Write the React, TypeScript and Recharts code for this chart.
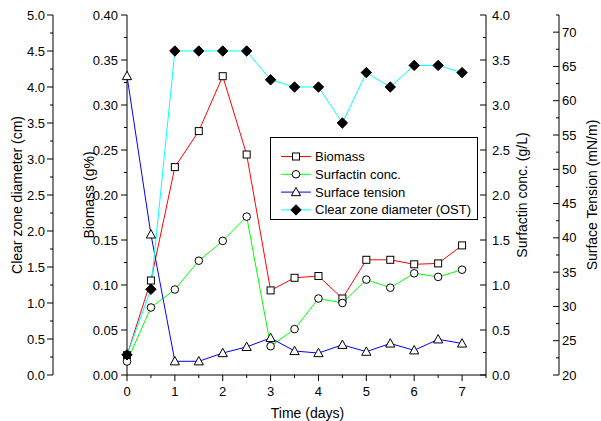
import React from "react";
import { ComposedChart, Line, XAxis, YAxis, Legend } from "recharts";

// time points (days)
const days = [0, 0.5, 1, 1.5, 2, 2.5, 3, 3.5, 4, 4.5, 5, 5.5, 6, 6.5, 7];
// Biomass (g%)
const biomass = [0.022, 0.105, 0.231, 0.271, 0.332, 0.245, 0.094, 0.108, 0.11, 0.085, 0.128, 0.128, 0.123, 0.124, 0.144];
// Surfactin conc. (g/L)
const surfactin = [0.15, 0.75, 0.95, 1.27, 1.49, 1.76, 0.32, 0.51, 0.85, 0.8, 1.06, 0.97, 1.13, 1.09, 1.17];
// Surface tension (mN/m)
const tension = [63.6, 40.5, 22.0, 22.0, 23.2, 24.1, 25.4, 23.5, 23.2, 24.4, 23.4, 24.6, 23.6, 25.2, 24.6];
// Clear zone diameter (cm)
const zone = [0.28, 1.19, 4.5, 4.5, 4.5, 4.5, 4.1, 4.0, 4.0, 3.5, 4.2, 4.0, 4.3, 4.3, 4.2];

const dayLabels = ["0", "1", "2", "3", "4", "5", "6", "7"];
const zoneLabels = ["0.0", "0.5", "1.0", "1.5", "2.0", "2.5", "3.0", "3.5", "4.0", "4.5", "5.0"];
const biomassLabels = ["0.00", "0.05", "0.10", "0.15", "0.20", "0.25", "0.30", "0.35", "0.40"];
const surfactinLabels = ["0.0", "0.5", "1.0", "1.5", "2.0", "2.5", "3.0", "3.5", "4.0"];
const tensionLabels = ["20", "25", "30", "35", "40", "45", "50", "55", "60", "65", "70"];

const seriesNames = ["Biomass", "Surfactin conc.", "Surface tension", "Clear zone diameter (OST)"];

const FONT = "'Liberation Sans', Arial, Helvetica, sans-serif";

const data = days.map((t, i) => ({
  t,
  biomass: biomass[i],
  surfactin: surfactin[i],
  tension: tension[i],
  zone: zone[i],
}));

// major ticks plus a minor tick half way between them
function withMinors(labels: string[], extra?: number) {
  const v = labels.map(Number);
  const out: number[] = [];
  v.forEach((x, i) => {
    out.push(x);
    if (i < v.length - 1) out.push((x + v[i + 1]) / 2);
  });
  if (extra !== undefined) out.push(extra);
  return out;
}

function makeTick(labels: string[], side: "left" | "right" | "bottom", dir: number, gap: number) {
  const majors = labels.map(Number);
  return (p: any) => {
    const { x, y, payload } = p;
    const idx = majors.findIndex((m) => Math.abs(m - payload.value) < 1e-6);
    const len = idx >= 0 ? 6 : 3;
    if (side === "bottom") {
      return (
        <g>
          <line x1={x} y1={y} x2={x} y2={y + len} stroke="#000" />
          {idx >= 0 && (
            <text x={x} y={y + gap} textAnchor="middle" dominantBaseline="central" fontSize={13} fontFamily={FONT} fill="#000">
              {labels[idx]}
            </text>
          )}
        </g>
      );
    }
    return (
      <g>
        <line x1={x} y1={y} x2={x + dir * len} y2={y} stroke="#000" />
        {idx >= 0 && (
          <text
            x={side === "left" ? x - gap : x + gap}
            y={y}
            textAnchor={side === "left" ? "end" : "start"}
            dominantBaseline="central"
            fontSize={13}
            fontFamily={FONT}
            fill="#000"
          >
            {labels[idx]}
          </text>
        )}
      </g>
    );
  };
}

function axisTitle(text: string, side: "left" | "right", dx: number) {
  return (p: any) => {
    const vb = p.viewBox;
    const lineX = side === "left" ? vb.x + vb.width : vb.x;
    const cx = lineX + dx;
    const cy = vb.y + vb.height / 2;
    return (
      <text x={cx} y={cy} transform={`rotate(-90 ${cx} ${cy})`} textAnchor="middle" dominantBaseline="central" fontSize={14} fontFamily={FONT} fill="#000">
        {text}
      </text>
    );
  };
}

function marker(shape: string, cx: number, cy: number, key?: any) {
  if (shape === "square")
    return <rect key={key} x={cx - 3.5} y={cy - 3.5} width={7} height={7} fill="#fff" stroke="#000" strokeWidth={1} />;
  if (shape === "circle") return <circle key={key} cx={cx} cy={cy} r={3.8} fill="#fff" stroke="#000" strokeWidth={1} />;
  if (shape === "triangle")
    return (
      <polygon key={key} points={`${cx},${cy - 4.8} ${cx - 4.6},${cy + 3.6} ${cx + 4.6},${cy + 3.6}`} fill="#fff" stroke="#000" strokeWidth={1} />
    );
  return <polygon key={key} points={`${cx},${cy - 5.2} ${cx + 5.2},${cy} ${cx},${cy + 5.2} ${cx - 5.2},${cy}`} fill="#000" stroke="#000" />;
}

const dotFor = (shape: string) => (p: any) => marker(shape, p.cx, p.cy, p.index);

const styles = [
  { color: "#ff0000", shape: "square" },
  { color: "#00ff00", shape: "circle" },
  { color: "#0000ff", shape: "triangle" },
  { color: "#00ffff", shape: "diamond" },
];

function LegendBox() {
  return (
    <svg width={208} height={83} style={{ display: "block" }}>
      <rect x={0.5} y={0.5} width={207} height={82} fill="#fff" stroke="#000" />
      {seriesNames.map((name, i) => {
        const y = 19.5 + i * 17.8;
        return (
          <g key={name}>
            <line x1={11} y1={y} x2={41} y2={y} stroke={styles[i].color} />
            {marker(styles[i].shape, 26, y)}
            <text x={45} y={y} dominantBaseline="central" fontSize={13} fontFamily={FONT} fill="#000">
              {name}
            </text>
          </g>
        );
      })}
    </svg>
  );
}

export default function App() {
  return (
    <div style={{ position: "absolute", left: 0, top: 0, width: 601, height: 421, background: "#fff" }}>
      <ComposedChart width={601} height={421} data={data} margin={{ top: 15, right: 0, bottom: 0, left: 0 }}>
        <XAxis
          dataKey="t"
          type="number"
          domain={[0, 7.5]}
          ticks={withMinors(dayLabels, 7.5)}
          interval={0}
          height={46}
          tickSize={0}
          tickMargin={0}
          axisLine={{ stroke: "#000" }}
          tick={makeTick(dayLabels, "bottom", 1, 16)}
          label={(p: any) => {
            const vb = p.viewBox;
            return (
              <text x={vb.x + vb.width / 2 + 1} y={vb.y + 38} textAnchor="middle" dominantBaseline="central" fontSize={14} fontFamily={FONT} fill="#000">
                Time (days)
              </text>
            );
          }}
        />
        <YAxis
          yAxisId="biomass"
          orientation="left"
          width={74}
          type="number"
          domain={[0, 0.4]}
          allowDataOverflow
          ticks={withMinors(biomassLabels)}
          interval={0}
          tickSize={0}
          tickMargin={0}
          axisLine={{ stroke: "#000" }}
          tick={makeTick(biomassLabels, "left", -1, 9)}
          label={axisTitle("Biomass (g%)", "left", -38)}
        />
        <YAxis
          yAxisId="zone"
          orientation="left"
          width={53}
          type="number"
          domain={[0, 5]}
          allowDataOverflow
          ticks={withMinors(zoneLabels)}
          interval={0}
          tickSize={0}
          tickMargin={0}
          axisLine={{ stroke: "#000" }}
          tick={makeTick(zoneLabels, "left", -1, 8)}
          label={axisTitle("Clear zone diameter (cm)", "left", -36)}
        />
        <YAxis
          yAxisId="surfactin"
          orientation="right"
          width={73}
          type="number"
          domain={[0, 4]}
          allowDataOverflow
          ticks={withMinors(surfactinLabels)}
          interval={0}
          tickSize={0}
          tickMargin={0}
          axisLine={{ stroke: "#000" }}
          tick={makeTick(surfactinLabels, "right", -1, 6)}
          label={axisTitle("Surfactin conc.  (g/L)", "right", 36)}
        />
        <YAxis
          yAxisId="tension"
          orientation="right"
          width={42}
          type="number"
          domain={[20, 72.5]}
          allowDataOverflow
          ticks={withMinors(tensionLabels, 72.5)}
          interval={0}
          tickSize={0}
          tickMargin={0}
          axisLine={{ stroke: "#000" }}
          tick={makeTick(tensionLabels, "right", -1, 3)}
          label={axisTitle("Surface Tension (mN/m)", "right", 33)}
        />
        <Legend
          layout="vertical"
          align="center"
          verticalAlign="middle"
          content={() => <LegendBox />}
          wrapperStyle={{ position: "absolute", left: 270, top: 137, width: 208, height: 83 }}
        />
        <Line yAxisId="biomass" dataKey="biomass" name={seriesNames[0]} stroke={styles[0].color} strokeWidth={1} dot={dotFor("square")} activeDot={false} isAnimationActive={false} />
        <Line yAxisId="surfactin" dataKey="surfactin" name={seriesNames[1]} stroke={styles[1].color} strokeWidth={1} dot={dotFor("circle")} activeDot={false} isAnimationActive={false} />
        <Line yAxisId="tension" dataKey="tension" name={seriesNames[2]} stroke={styles[2].color} strokeWidth={1} dot={dotFor("triangle")} activeDot={false} isAnimationActive={false} />
        <Line yAxisId="zone" dataKey="zone" name={seriesNames[3]} stroke={styles[3].color} strokeWidth={1} dot={dotFor("diamond")} activeDot={false} isAnimationActive={false} />
      </ComposedChart>
    </div>
  );
}
